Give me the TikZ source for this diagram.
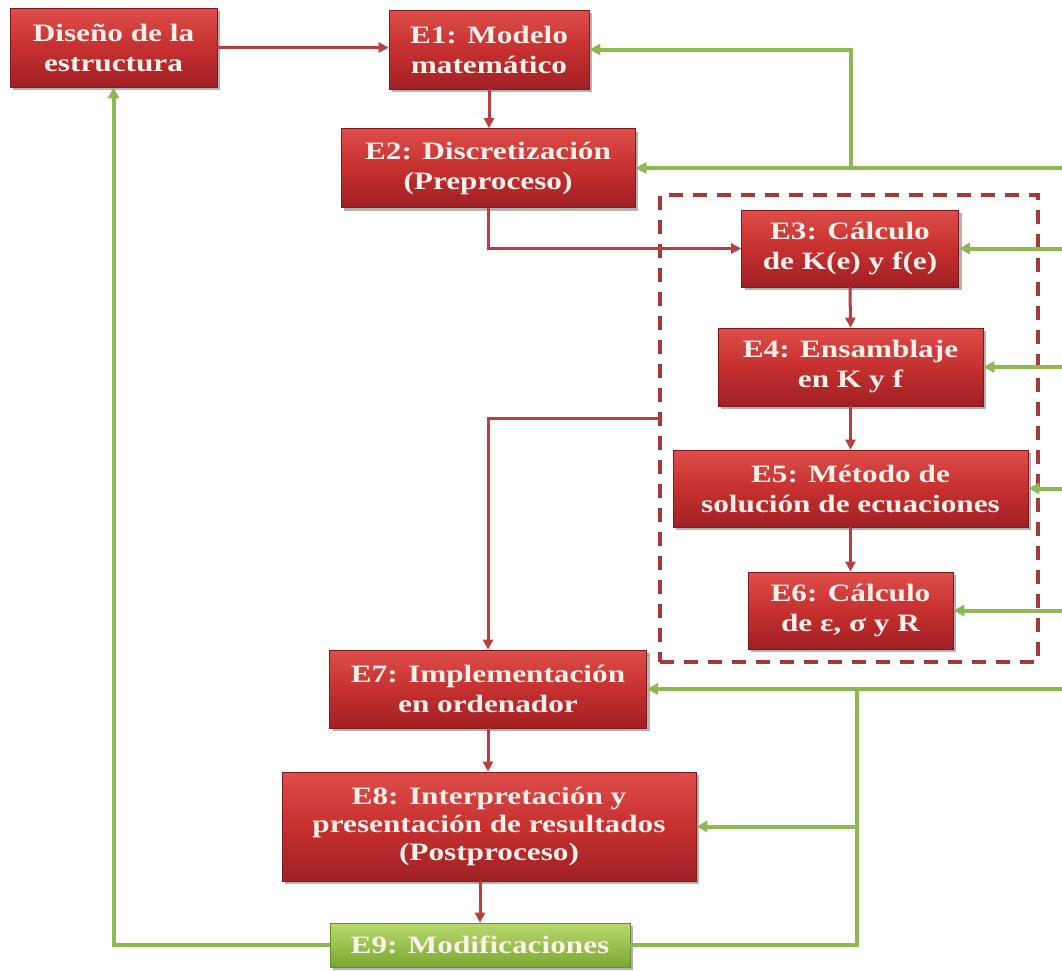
\documentclass[tikz,border=0pt]{standalone}
\usepackage{fontspec}
\setmainfont{Liberation Serif}[FakeStretch=1.25]
\usetikzlibrary{arrows.meta,shadows}
\definecolor{redtop}{RGB}{222,78,74}
\definecolor{redmid}{RGB}{198,48,48}
\definecolor{redbot}{RGB}{160,32,36}
\definecolor{redborder}{RGB}{130,24,26}
\definecolor{greentop}{RGB}{184,218,110}
\definecolor{greenbot}{RGB}{122,168,50}
\definecolor{greenborder}{RGB}{100,140,40}
\definecolor{gline}{RGB}{141,184,84}
\definecolor{rline}{RGB}{185,62,62}
\definecolor{dline}{RGB}{168,56,56}
\definecolor{boxtext}{RGB}{252,240,232}
\begin{document}
\begin{tikzpicture}[x=1pt,y=-1pt,
  box/.style={rectangle, draw=redborder, line width=0.8pt,
    top color=redtop, bottom color=redbot, middle color=redmid,
    text=boxtext, font=\fontsize{25}{30}\selectfont\bfseries, align=center,
    inner sep=0pt,
    drop shadow={shadow xshift=3pt, shadow yshift=-3pt, opacity=0.3, fill=black}},
  gbox/.style={box, draw=greenborder, top color=greentop, bottom color=greenbot, middle color={greentop!50!greenbot}},
  redline/.style={draw=rline, line width=3pt, -{Triangle[length=10pt,width=10pt]}},
  greenline/.style={draw=gline, line width=4pt, -{Triangle[length=11pt,width=11pt]}},
  greenplain/.style={draw=gline, line width=4pt},
  dashedbox/.style={draw=dline, line width=3.5pt, dash pattern=on 14pt off 10pt}
]
\fill[white] (0,0) rectangle (1062,970);
\useasboundingbox (0,0) rectangle (1062,970);

% group
\node[dashedbox, rectangle, minimum width=378pt, minimum height=467pt, inner sep=0pt] (grp) at (849,428.5) {};

% boxes
\node[box, minimum width=207pt, minimum height=79pt] (dis) at (113.5,47.5) {Diseño de la\\estructura};
\node[box, minimum width=200pt, minimum height=79pt] (e1) at (489,49.5) {E1: Modelo\\matemático};
\node[box, minimum width=294pt, minimum height=79pt] (e2) at (488,168) {E2: Discretización\\(Preproceso)};
\node[box, minimum width=217pt, minimum height=77pt] (e3) at (850,248.5) {E3: Cálculo\\de K(e) y f(e)};
\node[box, minimum width=265pt, minimum height=78pt] (e4) at (850.5,367) {E4: Ensamblaje\\en K y f};
\node[box, minimum width=355pt, minimum height=77pt] (e5) at (850.5,488.5) {E5: Método de\\solución de ecuaciones};
\node[box, minimum width=205pt, minimum height=77pt] (e6) at (850.5,610.5) {E6: Cálculo\\de ε, σ y R};
\node[box, minimum width=317pt, minimum height=78pt] (e7) at (488,689) {E7: Implementación\\en ordenador};
\node[box, minimum width=414pt, minimum height=109pt, font=\fontsize{25}{28}\selectfont\bfseries] (e8) at (489,826.5) {E8: Interpretación y\\presentación de resultados\\(Postproceso)};
\node[gbox, minimum width=300pt, minimum height=44pt] (e9) at (480,945) {E9: Modificaciones};

% coordinates
\coordinate (dl) at (660,418);
\coordinate (j1) at (851,168);
\coordinate (j2) at (857,688);
\coordinate (r2) at (1062,168);
\coordinate (r3) at (1062,248.5);
\coordinate (r4) at (1062,367);
\coordinate (r5) at (1062,488.5);
\coordinate (r6) at (1062,610.5);
\coordinate (r7) at (1062,689);

% red connectors
\draw[redline] (dis.east) -- (dis.east -| e1.west);
\draw[redline] (e1.south) -- (e1.south |- e2.north);
\draw[redline] (e2.south) |- (e3.west);
\draw[redline] (e3.south) -- (e4.north);
\draw[redline] (e4.south) -- (e5.north);
\draw[redline] (e5.south) -- (e6.north);
\draw[redline] (dl) -| (e7.north);
\draw[redline] (e7.south) -- (e7.south |- e8.north);
\draw[redline] (e8.south -| e9.north) -- (e9.north);

% green connectors
\draw[greenline] (r2) -- (e2.east);
\draw[greenline] (j1) |- (e1.east);
\draw[greenline] (r3) -- (e3.east);
\draw[greenline] (r4) -- (e4.east);
\draw[greenline] (r5) -- (e5.east);
\draw[greenline] (r6) -- (e6.east);
\draw[greenline] (r7) -- (e7.east);
\draw[greenline] (j2) |- (e8.east);
\draw[greenplain] (e9.east) -| (j2);
\draw[greenline] (e9.west) -| (dis.south);
\end{tikzpicture}
\end{document}
